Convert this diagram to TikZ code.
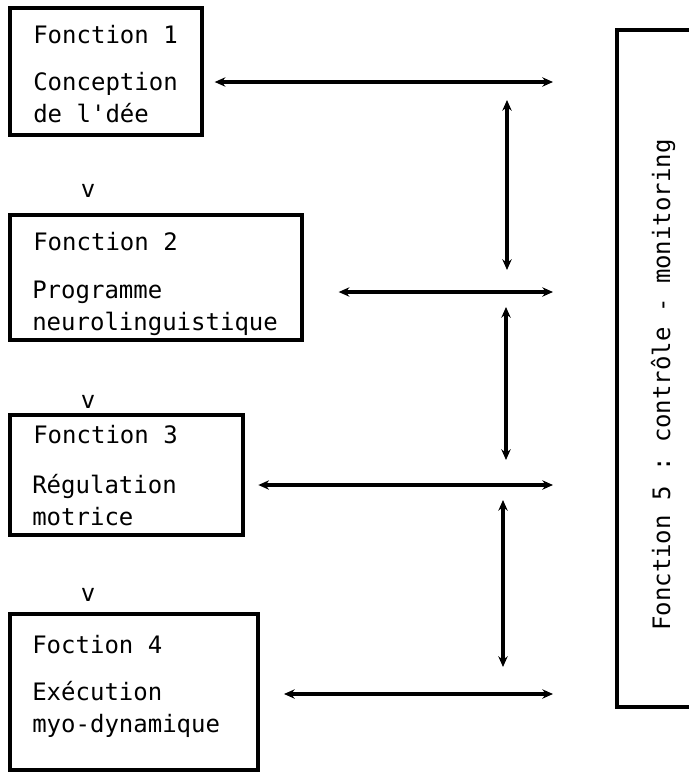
\documentclass[tikz,border=0pt]{standalone}
\usepackage{fontspec}
\setmonofont{DejaVu Sans Mono}
\usetikzlibrary{positioning,fit,arrows.meta}

\begin{document}
\begin{tikzpicture}[x=0.75pt,y=-0.75pt,>={Stealth[length=8pt,width=7pt]},
  fbox/.style={draw,line width=3pt,inner sep=0pt},
  ftxt/.style={font=\ttfamily\fontsize{18}{23.5}\selectfont,inner sep=0pt},
  fleche/.style={<->,line width=2.4pt}]
\useasboundingbox (0,0) rectangle (689,772);
% cadres des fonctions 1 a 4
\path (10,8) coordinate (a1) (202,135) coordinate (b1);
\path (10,215) coordinate (a2) (302,340) coordinate (b2);
\path (10,415) coordinate (a3) (243,535) coordinate (b3);
\path (10,614) coordinate (a4) (258,770) coordinate (b4);
\node[fbox,fit=(a1)(b1)] (f1) {};
\node[fbox,fit=(a2)(b2)] (f2) {};
\node[fbox,fit=(a3)(b3)] (f3) {};
\node[fbox,fit=(a4)(b4)] (f4) {};
\node[ftxt,anchor=base west] (t1) at (33,43) {Fonction 1};
\node[ftxt,anchor=base west,align=left] (d1) at (33,122) {Conception\\de l'dée};
\node[ftxt,anchor=base west] (t2) at (33,250) {Fonction 2};
\node[ftxt,anchor=base west,align=left] (d2) at (32,330) {Programme\\neurolinguistique};
\node[ftxt,anchor=base west] (t3) at (33,443) {Fonction 3};
\node[ftxt,anchor=base west,align=left] (d3) at (32,525) {Régulation\\motrice};
\node[ftxt,anchor=base west] (t4) at (32,653) {Foction 4};
\node[ftxt,anchor=base west,align=left] (d4) at (32,732) {Exécution\\myo-dynamique};
\node[ftxt,anchor=base] (v2) at (88,197) {v};
\node[ftxt,anchor=base] (v3) at (88,408) {v};
\node[ftxt,anchor=base] (v4) at (88,601) {v};
% fonction 5
\draw[line width=3pt] (689,30) -- (617,30) -- (617,707) -- (689,707);
\node[ftxt,rotate=90,anchor=base west] (t5) at (670,631) {Fonction 5 : contrôle - monitoring};
% liaisons
\coordinate (r1) at (553,82);
\coordinate (r2) at (553,292);
\coordinate (r3) at (553,485);
\coordinate (r4) at (553,694);
\draw[fleche,shorten >=8pt] (r1) -- (f1.east |- r1);
\draw[fleche,shorten >=26pt] (r2) -- (f2.east |- r2);
\draw[fleche,shorten >=10pt] (r3) -- (f3.east |- r3);
\draw[fleche,shorten >=18pt] (r4) -- (f4.east |- r4);
\coordinate (h1) at (507,100); \coordinate (l1) at (507,270);
\coordinate (h2) at (506,307); \coordinate (l2) at (506,460);
\coordinate (h3) at (503,500); \coordinate (l3) at (503,667);
\foreach \i in {1,2,3}
  \draw[fleche] (h\i) -- (l\i);
\end{tikzpicture}
\end{document}
